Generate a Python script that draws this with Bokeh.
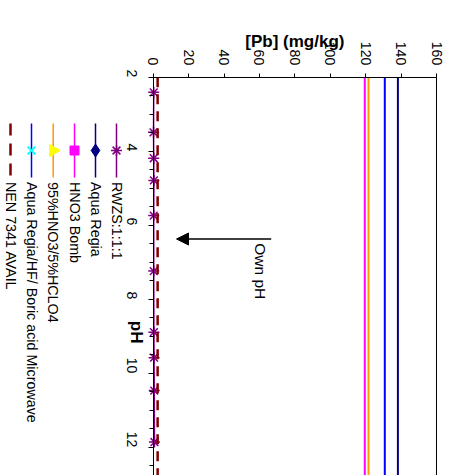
import math
from bokeh.plotting import figure
from bokeh.models import Range1d, SingleIntervalTicker, Label, Arrow, NormalHead
from bokeh.embed import file_html
from bokeh.resources import INLINE

# ---- data ----
series_names = ["RWZS:1:1:1", "Aqua Regia", "HNO3 Bomb", "95%HNO3/5%HCLO4",
                "Aqua Regia/HF/ Boric acid Microwave", "NEN 7341 AVAIL"]
series_colors = ["#800080", "#000080", "#FF00FF", "#FF9900", "#0000FF", "#800000"]
series_markers = ["asterisk", "diamond", "square", "triangle", "x", None]
marker_fills = ["#800080", "#000080", "#FF00FF", "#FFFF00", "#00FFFF", None]

rwzs_ph = [2.41, 3.49, 4.19, 4.79, 5.74, 7.24, 8.89, 9.58, 10.47, 11.86]
rwzs_pb = [0.3, 0.2, 0.3, 0.4, 0.3, 0.3, 0.4, 0.5, 0.6, 0.7]

ref_ph = [2, 14]
aqua_regia_pb = 138.2
hno3_bomb_pb = 119.5
hno3_hclo4_pb = 121.6
ar_hf_pb = 130.8
nen_pb = 2.5

ph_axis_min = 2
pb_axis_min, pb_axis_max = 0, 160
ph_ticks_interval = 2
pb_ticks_interval = 20

FONT = "Liberation Sans"

# ---- layout geometry (page pixels -> data coordinates) ----
W, H = 454, 475
PX0, PXS = 152.7, 1.7706   # page x of Pb=0, px per mg/kg
PY0, PYS = 76.7, 37.0      # page y of pH=2, px per pH unit


def dx(px):
    return (px - PX0) / PXS


def dy(py):
    return ph_axis_min + (py - PY0) / PYS


p = figure(width=W, height=H, title=None,
           x_range=Range1d(dx(0), dx(W)), y_range=Range1d(dy(H), dy(0)),
           output_backend="svg", toolbar_location=None, x_axis_location="above",
           min_border_left=0, min_border_right=0, min_border_top=0, min_border_bottom=0)
p.grid.visible = False
p.outline_line_color = None
p.background_fill_color = "white"

# top axis: [Pb]
xa = p.xaxis[0]
xa.fixed_location = ph_axis_min
xa.bounds = (pb_axis_min, pb_axis_max)
xa.ticker = SingleIntervalTicker(interval=pb_ticks_interval, num_minor_ticks=0)
xa.major_label_orientation = -math.pi / 2
xa.major_tick_out = 4
xa.major_tick_in = 0
xa.major_label_standoff = 8
xa.major_label_text_font = FONT
xa.major_label_text_font_size = "14px"
xa.major_label_text_color = "black"
xa.axis_line_color = "black"
xa.major_tick_line_color = "black"

# left axis: pH
ya = p.yaxis[0]
ya.fixed_location = pb_axis_min
ya.bounds = (ph_axis_min, dy(H))
ya.ticker = SingleIntervalTicker(interval=ph_ticks_interval, num_minor_ticks=4)
ya.major_label_orientation = -math.pi / 2
ya.major_tick_out = 5
ya.major_tick_in = 0
ya.minor_tick_out = 4
ya.minor_tick_in = 0
ya.major_label_standoff = 16
ya.major_label_text_font = FONT
ya.major_label_text_font_size = "14px"
ya.major_label_text_color = "black"
ya.axis_line_color = "black"
ya.major_tick_line_color = "black"
ya.minor_tick_line_color = "black"

# right border of plot area
p.segment(x0=[pb_axis_max], y0=[ph_axis_min], x1=[pb_axis_max], y1=[dy(H)],
          line_color="black", line_width=1)

# series
p.line(rwzs_pb, rwzs_ph, line_color=series_colors[0], line_width=1.5)
p.scatter(rwzs_pb, rwzs_ph, marker="asterisk", size=11, line_color=series_colors[0], line_width=1.5)
p.line([aqua_regia_pb] * 2, ref_ph, line_color=series_colors[1], line_width=2)
p.line([hno3_bomb_pb] * 2, ref_ph, line_color=series_colors[2], line_width=2)
p.line([hno3_hclo4_pb] * 2, ref_ph, line_color=series_colors[3], line_width=2)
p.line([ar_hf_pb] * 2, ref_ph, line_color=series_colors[4], line_width=2)
p.line([nen_pb] * 2, ref_ph, line_color=series_colors[5], line_width=2.5, line_dash="10 7")

# axis titles
p.add_layout(Label(x=(pb_axis_min + pb_axis_max) / 2, y=dy(41), text="[Pb] (mg/kg)",
                   text_align="center", text_baseline="middle",
                   text_font=FONT, text_font_size="17px", text_font_style="bold",
                   text_color="black"))
p.add_layout(Label(x=dx(136), y=dy(331.7), text="pH", angle=-math.pi / 2,
                   text_align="center", text_baseline="middle",
                   text_font=FONT, text_font_size="17px", text_font_style="bold",
                   text_color="black"))

# annotation
p.add_layout(Arrow(end=NormalHead(size=12, fill_color="black", line_color="black"),
                   x_start=dx(270.7), y_start=dy(238.5), x_end=dx(176), y_end=dy(238.5),
                   line_color="black", line_width=1.5))
p.add_layout(Label(x=dx(260), y=dy(242.7), text="Own pH", angle=-math.pi / 2,
                   text_align="left", text_baseline="middle",
                   text_font=FONT, text_font_size="15.5px", text_color="black"))

# legend (rotated, below-left)
leg_px = [116, 95, 74, 52.7, 31, 10]
for i, name in enumerate(series_names):
    cx = dx(leg_px[i])
    col = series_colors[i]
    ly = [dy(123), dy(177)]
    my = [dy(150)]
    if series_markers[i] is None:
        p.line([cx, cx], ly, line_color=col, line_width=2.5, line_dash="12 8")
    else:
        p.line([cx, cx], ly, line_color=col, line_width=1.5)
        m = series_markers[i]
        if m == "asterisk":
            p.scatter([cx], my, marker="asterisk", size=11, line_color=col, line_width=1.5)
        elif m == "x":
            p.scatter([cx], my, marker="x", size=11, line_color=marker_fills[i], line_width=2)
        elif m == "triangle":
            p.scatter([cx], my, marker="triangle", size=12, angle=-math.pi / 2,
                      fill_color=marker_fills[i], line_color=marker_fills[i])
        elif m == "diamond":
            p.scatter([cx], my, marker="diamond", size=13,
                      fill_color=marker_fills[i], line_color=marker_fills[i])
        else:
            p.scatter([cx], my, marker=m, size=9,
                      fill_color=marker_fills[i], line_color=marker_fills[i])
    p.add_layout(Label(x=cx, y=dy(181.5), text=name, angle=-math.pi / 2,
                       text_align="left", text_baseline="middle",
                       text_font=FONT, text_font_size="14.3px", text_color="black"))

open("out.html", "w").write(file_html(p, INLINE))
